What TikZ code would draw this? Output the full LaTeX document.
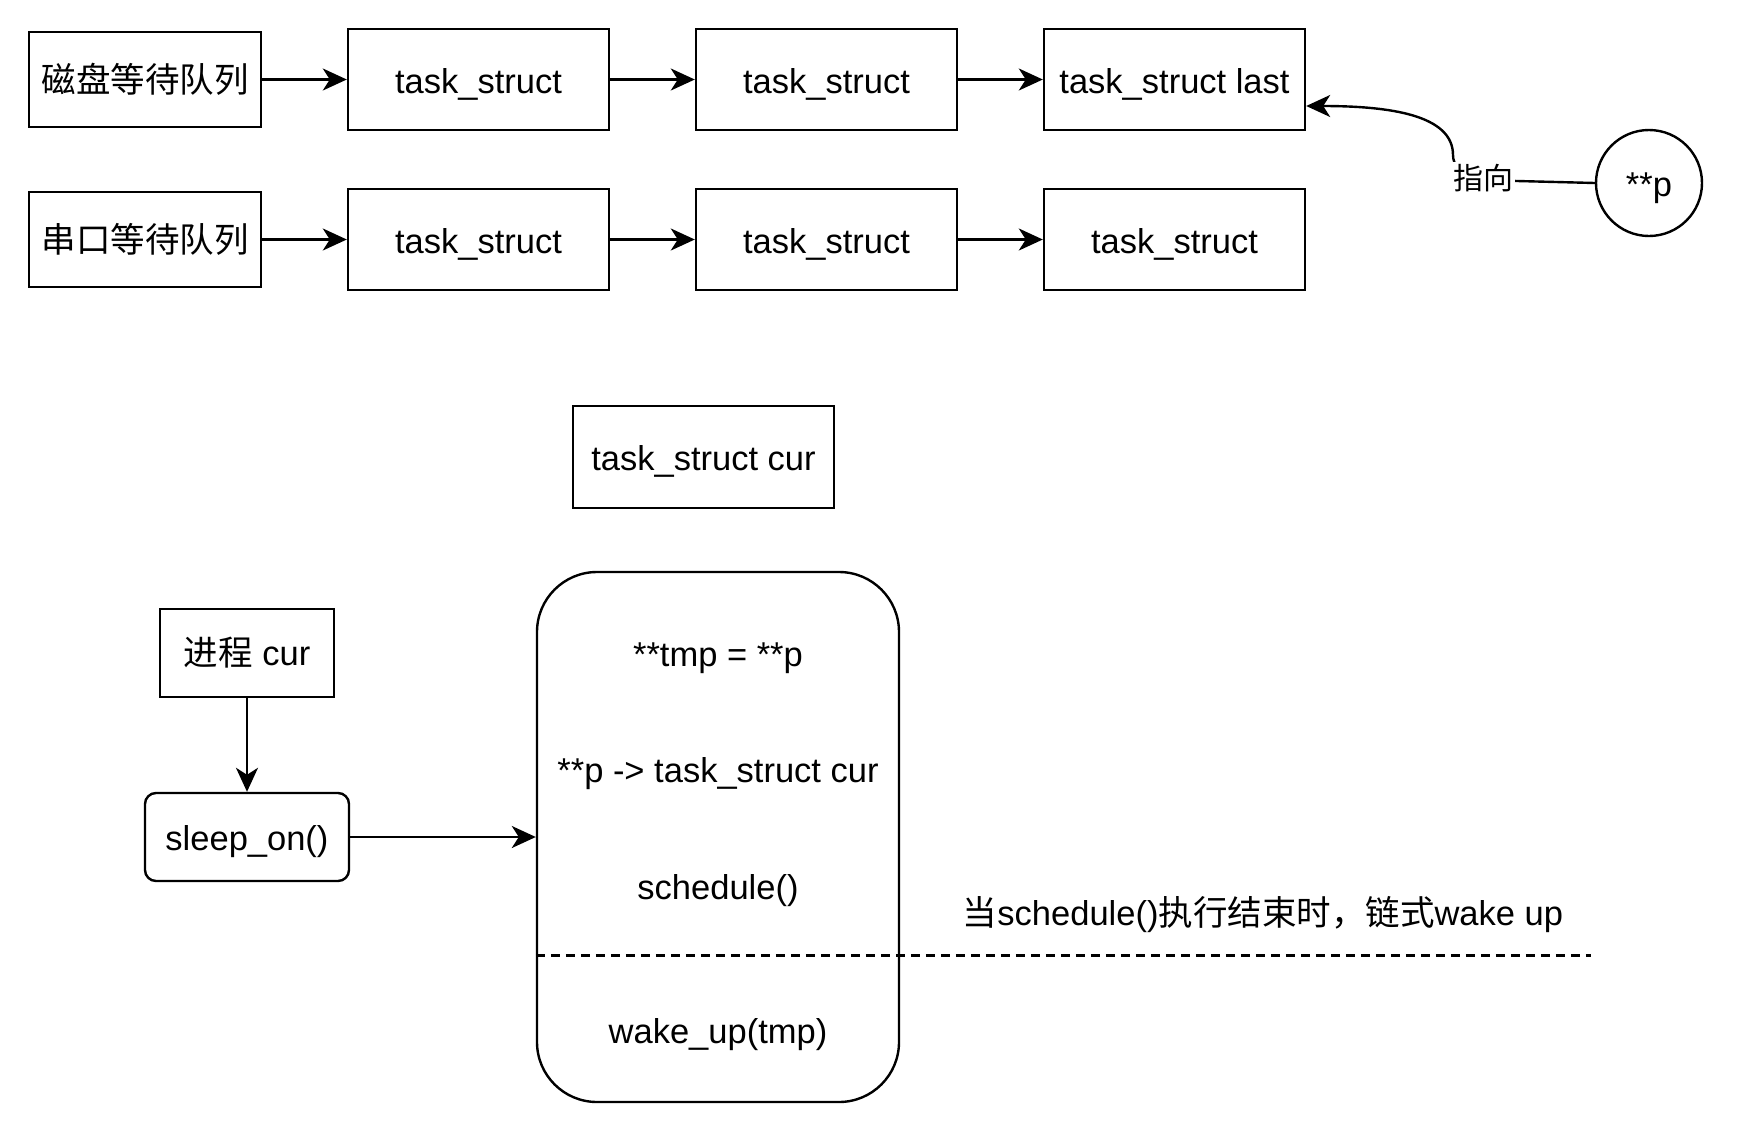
\documentclass[tikz,border=0pt]{standalone}
\usepackage{fontspec}
\setmainfont{Liberation Sans}
\newfontfamily\cjk{Noto Sans CJK SC}
\usetikzlibrary{arrows.meta}
\begin{document}
\begin{tikzpicture}[x=0.5pt,y=-0.5pt,
  every node/.style={font=\fontsize{17.25}{20}\selectfont, inner sep=0pt},
  lat/.style={text height=16pt, text depth=2.5pt},
  box/.style={draw, line width=1.2pt},
  qbox/.style={box, minimum width=116pt, minimum height=47.5pt},
  tbox/.style={box, lat, minimum width=130.5pt, minimum height=50.5pt},
  arr/.style={-{Stealth[length=12pt,width=11pt,inset=3.5pt]}, line width=1.2pt},
  lbl/.style={fill=white, inner sep=1pt}
]
\useasboundingbox (0,0) rectangle (1742,1130);
% row 1
\node[qbox] (q1) at (145,79.5) {\cjk 磁盘等待队列};
\node[tbox] (a1) at (478.5,79.5) {task\_struct};
\node[tbox] (a2) at (826.5,79.5) {task\_struct};
\node[tbox] (a3) at (1174.5,79.5) {task\_struct last};
% row 2
\node[qbox] (q2) at (145,239.5) {\cjk 串口等待队列};
\node[tbox] (b1) at (478.5,239.5) {task\_struct};
\node[tbox] (b2) at (826.5,239.5) {task\_struct};
\node[tbox] (b3) at (1174.5,239.5) {task\_struct};
\draw[arr] (q1) -- (a1);
\draw[arr] (a1) -- (a2);
\draw[arr] (a2) -- (a3);
\draw[arr] (q2) -- (b1);
\draw[arr] (b1) -- (b2);
\draw[arr] (b2) -- (b3);
% pointer
\node[box, lat, circle, minimum size=53pt] (p) at (1649,183) {**p};
\draw[arr] (p.west) -- (1517,181) .. controls (1480,180) and (1453,175) .. (1453,155)
  .. controls (1453,115) and (1390,106) .. ([yshift=-13.25pt]a3.east);
\node[lbl, font=\cjk\fontsize{15}{18}\selectfont] (zx) at (1483,178) {指向};
% lower part
\node[tbox, minimum height=51pt] (cur) at (703.5,457) {task\_struct cur};
\node[box, minimum width=87pt, minimum height=44pt] (proc) at (247,653) {{\cjk 进程} cur};
\node[box, lat, rounded corners=5.5pt, minimum width=102pt, minimum height=44pt] (sleep) at (247,837) {sleep\_on()};
\node[box, rounded corners=30pt, minimum width=181pt, minimum height=265pt] (big) at (718,837) {};
\node[lat] (t1) at (718,653) {**tmp = **p};
\node[lat] (t2) at (718,769) {**p -> task\_struct cur};
\node[lat] (t3) at (718,885.5) {schedule()};
\node[lat] (t4) at (718,1030) {wake\_up(tmp)};
\draw[arr] (proc) -- (sleep);
\draw[arr] (sleep) -- (big);
\coordinate (dend) at (1591,955.5);
\draw[line width=1.2pt, dash pattern=on 4.5pt off 3pt] (big.west |- dend) -- (dend);
\node (note) at (1263,915) {{\cjk 当}schedule(){\cjk 执行结束时，链式}wake up};
\end{tikzpicture}
\end{document}
